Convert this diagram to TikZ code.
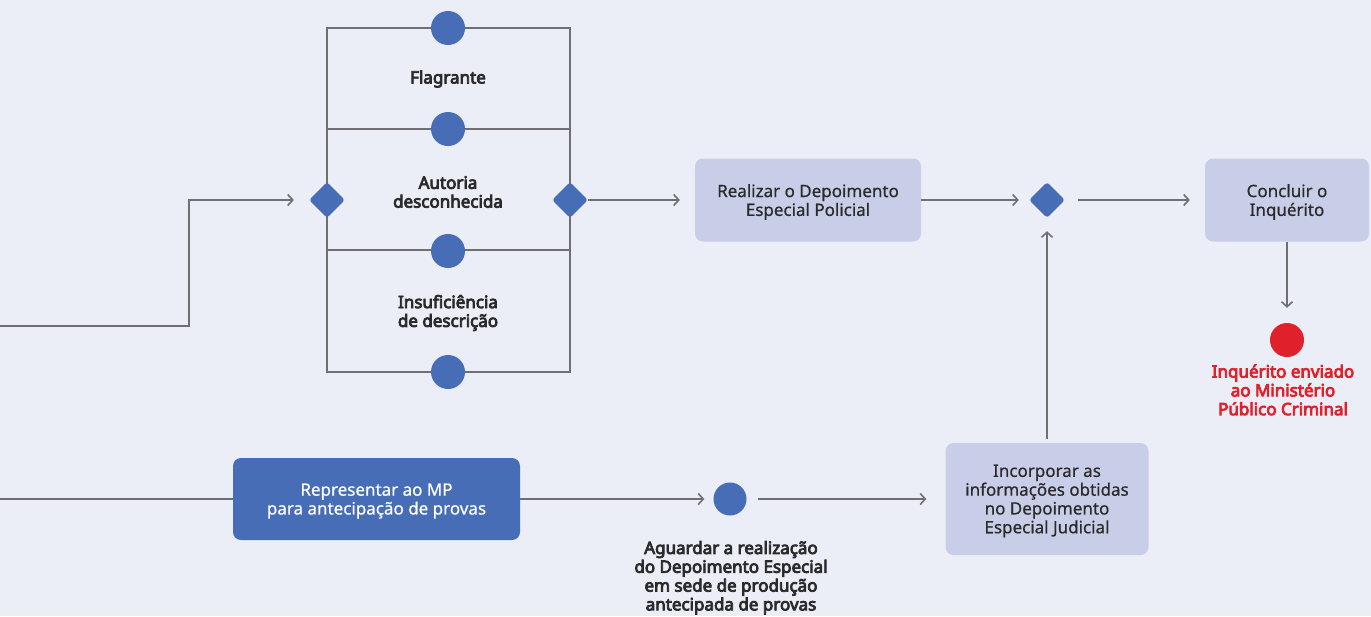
\documentclass[tikz,border=0pt]{standalone}
\usepackage{fontspec}
\setmainfont{Noto Sans}[FakeBold=0.6,BoldFont={Noto Sans},BoldFeatures={FakeBold=4.5}]
\usetikzlibrary{arrows.meta,shapes.geometric,positioning}
\definecolor{bg}{HTML}{EBEEF7}
\definecolor{blu}{HTML}{466DB6}
\definecolor{lav}{HTML}{C9CEE8}
\definecolor{lin}{HTML}{6F6F73}
\definecolor{txt}{HTML}{2A2A2A}
\definecolor{rd}{HTML}{E0212B}
\tikzset{
  fs/.style={font=\fontsize{17}{18.8}\selectfont},
  fb/.style={font=\fontsize{17}{18.8}\selectfont\bfseries},
  frame/.style={draw=lin,line width=2pt},
  arr/.style={draw=lin,line width=2pt,-{Straight Barb[length=5pt,width=11pt,line width=1.6pt]}},
  ln/.style={draw=lin,line width=2pt},
  dot/.style={circle,fill=blu,inner sep=0pt,minimum size=34pt},
  dia/.style={diamond,fill=blu,inner sep=0pt,minimum width=36pt,minimum height=36pt,rounded corners=3pt},
  lbl/.style={fb,text=txt,align=center},
  lbox/.style={fs,fill=lav,rounded corners=8pt,text=txt,align=center,inner sep=0pt,text depth=-1.5pt},
  bbox/.style={fs,fill=blu,rounded corners=8pt,text=white,align=center,inner sep=0pt,text depth=-1.5pt},
}
\begin{document}
\begin{tikzpicture}[x=1pt,y=-1pt]
\fill[bg] (0,0) rectangle (1371,616);
\useasboundingbox (0,0) rectangle (1371,616);
% panel frame
\coordinate (tl) at (327,28);
\coordinate (br) at (570,372);
\coordinate (m1l) at (327,129);
\coordinate (m1r) at (570,129);
\coordinate (m2l) at (327,250);
\coordinate (m2r) at (570,250);
\draw[frame] (tl) rectangle (br);
\draw[frame] (m1l) -- (m1r);
\draw[frame] (m2l) -- (m2r);
\node[dot] (c1) at (448,28) {};
\node[dot] (c2) at (448,129) {};
\node[dot] (c3) at (448,251) {};
\node[dot] (c4) at (448,372) {};
\node[dia] (dL) at (327,200) {};
\node[dia] (dR) at (570,200) {};
\node[lbl] (t1) at (448,79) {Flagrante};
\node[lbl] (t2) at (448,192) {Autoria\\desconhecida};
\node[lbl] (t3) at (448,313) {Insuficiência\\de descrição};
% top row
\node[lbox,minimum width=226pt,minimum height=83pt] (b1) at (808,200) {Realizar o Depoimento\\Especial Policial};
\node[dia] (dM) at (1047,200) {};
\node[lbox,minimum width=164pt,minimum height=83pt] (b2) at (1287,200) {Concluir o\\Inquérito};
\node[circle,fill=rd,inner sep=0pt,minimum size=34pt] (end) at (1287,340) {};
\node[fb,text=rd,align=center,anchor=north] (et) at (1283,361) {Inquérito enviado\\ao Ministério\\Público Criminal};
% bottom row
\node[bbox,minimum width=287pt,minimum height=82pt] (b3) at (376.5,499) {Representar ao MP\\para antecipação de provas};
\node[dot,minimum size=33pt] (c5) at (730,499) {};
\node[fb,text=txt,align=center,anchor=north] (wt) at (731,537.5) {Aguardar a realização\\do Depoimento Especial\\em sede de produção\\antecipada de provas};
\node[lbox,minimum width=203pt,minimum height=112pt] (b4) at (1047,499) {Incorporar as\\informações obtidas\\no Depoimento\\Especial Judicial};
% connectors
\coordinate (in1) at (0,326);
\coordinate (k1) at (189,326);
\coordinate (in2) at (0,499);
\draw[arr,shorten >=15pt] (in1) -- (k1) |- (dL.west);
\draw[arr,shorten >=15pt] (dR.east) -- (b1.west);
\draw[arr,shorten >=10pt] (b1.east) -- (dM.west);
\draw[arr,shorten <=13pt,shorten >=15pt] (dM.east) -- (b2.west);
\draw[arr,shorten >=15pt] (b2.south) -- (end.north);
\draw[ln] (in2) -- (b3.west);
\draw[arr,shorten >=9pt] (b3.east) -- (c5.west);
\draw[arr,shorten <=11pt,shorten >=19pt] (c5.east) -- (b4.west);
\draw[arr,shorten <=4pt,shorten >=13pt] (b4.north) -- (dM.south);
\end{tikzpicture}
\end{document}
